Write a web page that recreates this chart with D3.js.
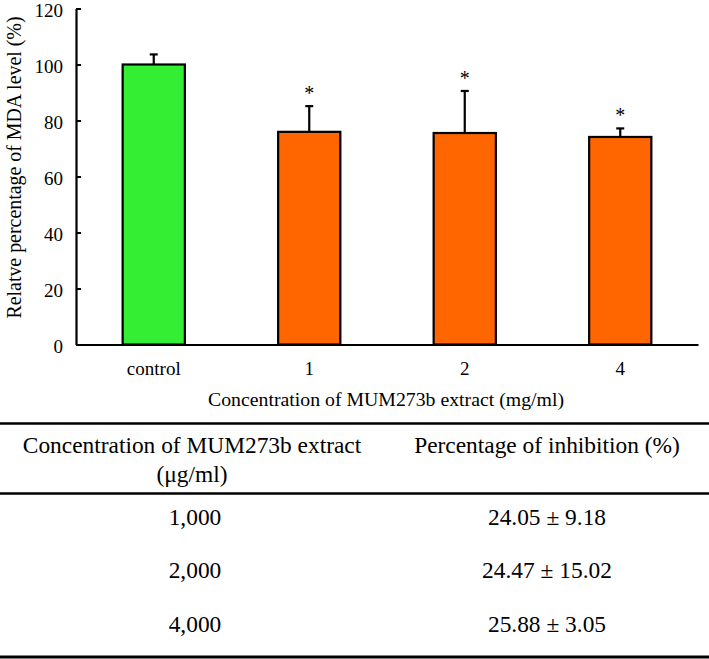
<!DOCTYPE html>
<html>
<head>
<meta charset="utf-8">
<script src="https://cdn.jsdelivr.net/npm/d3@7"></script>
<style>
  html, body { margin: 0; padding: 0; background: #fff; }
  svg { display: block; }
  text { font-family: "Liberation Serif", "Times New Roman", serif; fill: #000; }
</style>
</head>
<body>
<svg id="chart" width="709" height="659"></svg>
<script>
// ---- Data ----
const categories = ["control", "1", "2", "4"];
const meanValues = [100, 75.95, 75.53, 74.12];
const sdValues = [3.6, 9.18, 15.02, 3.05];
const significant = [false, true, true, true];
const barColors = ["#33EE33", "#FF6600", "#FF6600", "#FF6600"];
const yTicks = [0, 20, 40, 60, 80, 100, 120];

const tableHeader = ["Concentration of MUM273b extract", "(μg/ml)", "Percentage of inhibition (%)"];
const tableConc = ["1,000", "2,000", "4,000"];
const inhibitionMean = ["24.05", "24.47", "25.88"];
const inhibitionSd = ["9.18", "15.02", "3.05"];

// ---- Layout ----
const svg = d3.select("#chart");
const x0 = 76, x1 = 698, yBottom = 344.5, yTop = 8.5;
const fs = 19;

const x = d3.scaleBand().domain(categories).range([x0, x1]).padding(0);
const y = d3.scaleLinear().domain([0, 120]).range([yBottom, yTop]);
const barW = x.bandwidth() * 0.4;

const data = categories.map((c, i) => ({ c, m: meanValues[i], sd: sdValues[i], sig: significant[i], col: barColors[i] }));

// bars
svg.append("g").selectAll("rect").data(data).join("rect")
  .attr("x", d => x(d.c) + x.bandwidth() / 2 - barW / 2)
  .attr("y", d => y(d.m))
  .attr("width", barW)
  .attr("height", d => y(0) - y(d.m))
  .attr("fill", d => d.col)
  .attr("stroke", "#000")
  .attr("stroke-width", 2.2);

// error bars
const eb = svg.append("g").attr("stroke", "#000").attr("stroke-width", 2.2);
eb.selectAll("line.v").data(data).join("line").attr("class", "v")
  .attr("x1", d => x(d.c) + x.bandwidth() / 2)
  .attr("x2", d => x(d.c) + x.bandwidth() / 2)
  .attr("y1", d => y(d.m))
  .attr("y2", d => y(d.m + d.sd));
eb.selectAll("line.h").data(data).join("line").attr("class", "h")
  .attr("x1", d => x(d.c) + x.bandwidth() / 2 - 4)
  .attr("x2", d => x(d.c) + x.bandwidth() / 2 + 4)
  .attr("y1", d => y(d.m + d.sd))
  .attr("y2", d => y(d.m + d.sd));

// asterisks
svg.append("g").selectAll("text").data(data.filter(d => d.sig)).join("text")
  .attr("x", d => x(d.c) + x.bandwidth() / 2)
  .attr("y", d => y(d.m + d.sd) - 6)
  .attr("text-anchor", "middle")
  .attr("font-size", 20)
  .text("*");

// y axis
const yAxis = svg.append("g").attr("transform", `translate(${x0},0)`)
  .call(d3.axisLeft(y).tickValues(yTicks).tickSizeInner(-5).tickSizeOuter(0).tickPadding(13));
yAxis.select(".domain").attr("stroke", "#000").attr("stroke-width", 2.2);
yAxis.selectAll(".tick line").attr("stroke", "#000").attr("stroke-width", 2);
yAxis.selectAll(".tick text").attr("font-size", fs).attr("dy", "0.4em")
  .attr("font-family", "Liberation Serif, Times New Roman, serif");

// x axis
const xAxis = svg.append("g").attr("transform", `translate(0,${yBottom})`)
  .call(d3.axisBottom(x).tickSize(0).tickPadding(17));
xAxis.select(".domain").attr("stroke", "#000").attr("stroke-width", 2.2);
xAxis.selectAll(".tick text").attr("font-size", fs).attr("font-family", "Liberation Serif, Times New Roman, serif");

// axis titles
svg.append("text")
  .attr("x", (x0 + x1) / 2 - 1).attr("y", 406)
  .attr("text-anchor", "middle").attr("font-size", 19.8)
  .text("Concentration of MUM273b extract (mg/ml)");
svg.append("text")
  .attr("transform", `translate(21,167.5) rotate(-90)`)
  .attr("text-anchor", "middle").attr("font-size", 19.9)
  .text("Relatve percentage of MDA level (%)");

// ---- Table ----
const tfs = 23.4;
const col1 = 192, col2 = 547;
const tbl = svg.append("g");
const rules = [{ y: 423.5, w: 2.6 }, { y: 493.5, w: 2.4 }, { y: 657, w: 3 }];
tbl.selectAll("line").data(rules).join("line")
  .attr("x1", 0).attr("x2", 709)
  .attr("y1", d => d.y).attr("y2", d => d.y)
  .attr("stroke", "#000").attr("stroke-width", d => d.w);

tbl.append("text").attr("x", col1).attr("y", 452.5).attr("text-anchor", "middle").attr("font-size", tfs).text(tableHeader[0]);
tbl.append("text").attr("x", col1).attr("y", 481.5).attr("text-anchor", "middle").attr("font-size", tfs).text(tableHeader[1]);
tbl.append("text").attr("x", col2).attr("y", 452.5).attr("text-anchor", "middle").attr("font-size", tfs).text(tableHeader[2]);

const rowY = d3.scaleLinear().domain([0, 2]).range([524.5, 631.5]);
tbl.selectAll("text.conc").data(tableConc).join("text").attr("class", "conc")
  .attr("x", col1 + 3).attr("y", (d, i) => rowY(i))
  .attr("text-anchor", "middle").attr("font-size", tfs).text(d => d);
tbl.selectAll("text.inh").data(inhibitionMean).join("text").attr("class", "inh")
  .attr("x", col2).attr("y", (d, i) => rowY(i))
  .attr("text-anchor", "middle").attr("font-size", tfs)
  .text((d, i) => `${d} ± ${inhibitionSd[i]}`);
</script>
</body>
</html>
